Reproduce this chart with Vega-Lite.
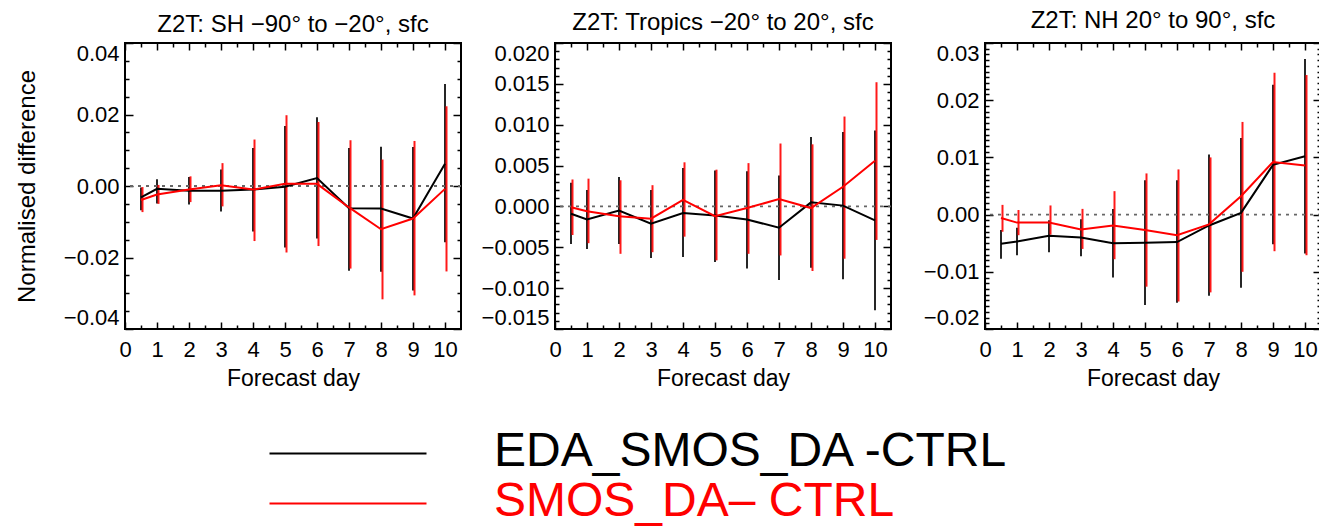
{
"$schema":"https://vega.github.io/schema/vega-lite/v6.json",
"padding":{"left":14,"top":7,"right":0,"bottom":0},
"spacing":94,
"bounds":"flush",
"datasets":{"d":[
{"p":"SH","s":"EDA_SMOS_DA -CTRL","d":0.5,"v":-0.0032,"lo":-0.0068,"hi":-0.0004},
{"p":"SH","s":"EDA_SMOS_DA -CTRL","d":1,"v":-0.0008,"lo":-0.0049,"hi":0.0019},
{"p":"SH","s":"EDA_SMOS_DA -CTRL","d":2,"v":-0.0013,"lo":-0.0052,"hi":0.0025},
{"p":"SH","s":"EDA_SMOS_DA -CTRL","d":3,"v":-0.0013,"lo":-0.0071,"hi":0.0046},
{"p":"SH","s":"EDA_SMOS_DA -CTRL","d":4,"v":-0.001,"lo":-0.0127,"hi":0.0106},
{"p":"SH","s":"EDA_SMOS_DA -CTRL","d":5,"v":-0.0002,"lo":-0.0172,"hi":0.0168},
{"p":"SH","s":"EDA_SMOS_DA -CTRL","d":6,"v":0.0022,"lo":-0.0147,"hi":0.0192},
{"p":"SH","s":"EDA_SMOS_DA -CTRL","d":7,"v":-0.0062,"lo":-0.0237,"hi":0.0106},
{"p":"SH","s":"EDA_SMOS_DA -CTRL","d":8,"v":-0.0063,"lo":-0.024,"hi":0.011},
{"p":"SH","s":"EDA_SMOS_DA -CTRL","d":9,"v":-0.0091,"lo":-0.0292,"hi":0.0109},
{"p":"SH","s":"EDA_SMOS_DA -CTRL","d":10,"v":0.0062,"lo":-0.0157,"hi":0.0285},
{"p":"SH","s":"SMOS_DA– CTRL","d":0.5,"v":-0.0039,"lo":-0.0073,"hi":-0.0003},
{"p":"SH","s":"SMOS_DA– CTRL","d":1,"v":-0.0024,"lo":-0.005,"hi":0.0003},
{"p":"SH","s":"SMOS_DA– CTRL","d":2,"v":-0.001,"lo":-0.0045,"hi":0.0027},
{"p":"SH","s":"SMOS_DA– CTRL","d":3,"v":0.0002,"lo":-0.0057,"hi":0.0064},
{"p":"SH","s":"SMOS_DA– CTRL","d":4,"v":-0.001,"lo":-0.0154,"hi":0.013},
{"p":"SH","s":"SMOS_DA– CTRL","d":5,"v":0.0006,"lo":-0.0186,"hi":0.0198},
{"p":"SH","s":"SMOS_DA– CTRL","d":6,"v":0.0006,"lo":-0.0168,"hi":0.0179},
{"p":"SH","s":"SMOS_DA– CTRL","d":7,"v":-0.006,"lo":-0.0231,"hi":0.0128},
{"p":"SH","s":"SMOS_DA– CTRL","d":8,"v":-0.0121,"lo":-0.0317,"hi":0.0074},
{"p":"SH","s":"SMOS_DA– CTRL","d":9,"v":-0.0091,"lo":-0.0306,"hi":0.0126},
{"p":"SH","s":"SMOS_DA– CTRL","d":10,"v":-0.0008,"lo":-0.0239,"hi":0.0223},
{"p":"TR","s":"EDA_SMOS_DA -CTRL","d":0.5,"v":-0.0009,"lo":-0.0046,"hi":0.0029},
{"p":"TR","s":"EDA_SMOS_DA -CTRL","d":1,"v":-0.0016,"lo":-0.0052,"hi":0.002},
{"p":"TR","s":"EDA_SMOS_DA -CTRL","d":2,"v":-0.0005,"lo":-0.0046,"hi":0.0036},
{"p":"TR","s":"EDA_SMOS_DA -CTRL","d":3,"v":-0.0021,"lo":-0.0063,"hi":0.002},
{"p":"TR","s":"EDA_SMOS_DA -CTRL","d":4,"v":-0.0008,"lo":-0.0062,"hi":0.0047},
{"p":"TR","s":"EDA_SMOS_DA -CTRL","d":5,"v":-0.0011,"lo":-0.0068,"hi":0.0044},
{"p":"TR","s":"EDA_SMOS_DA -CTRL","d":6,"v":-0.0016,"lo":-0.0076,"hi":0.0043},
{"p":"TR","s":"EDA_SMOS_DA -CTRL","d":7,"v":-0.0026,"lo":-0.009,"hi":0.0038},
{"p":"TR","s":"EDA_SMOS_DA -CTRL","d":8,"v":0.0005,"lo":-0.0075,"hi":0.0085},
{"p":"TR","s":"EDA_SMOS_DA -CTRL","d":9,"v":0.0001,"lo":-0.0089,"hi":0.0091},
{"p":"TR","s":"EDA_SMOS_DA -CTRL","d":10,"v":-0.0017,"lo":-0.0127,"hi":0.0093},
{"p":"TR","s":"SMOS_DA– CTRL","d":0.5,"v":-0.0001,"lo":-0.0035,"hi":0.0033},
{"p":"TR","s":"SMOS_DA– CTRL","d":1,"v":-0.0006,"lo":-0.0045,"hi":0.0034},
{"p":"TR","s":"SMOS_DA– CTRL","d":2,"v":-0.0012,"lo":-0.0058,"hi":0.0032},
{"p":"TR","s":"SMOS_DA– CTRL","d":3,"v":-0.0015,"lo":-0.0056,"hi":0.0026},
{"p":"TR","s":"SMOS_DA– CTRL","d":4,"v":0.0008,"lo":-0.0037,"hi":0.0054},
{"p":"TR","s":"SMOS_DA– CTRL","d":5,"v":-0.0012,"lo":-0.0066,"hi":0.0045},
{"p":"TR","s":"SMOS_DA– CTRL","d":6,"v":-0.0002,"lo":-0.0058,"hi":0.0053},
{"p":"TR","s":"SMOS_DA– CTRL","d":7,"v":0.0009,"lo":-0.006,"hi":0.0077},
{"p":"TR","s":"SMOS_DA– CTRL","d":8,"v":-0.0002,"lo":-0.0079,"hi":0.0076},
{"p":"TR","s":"SMOS_DA– CTRL","d":9,"v":0.0024,"lo":-0.0064,"hi":0.011},
{"p":"TR","s":"SMOS_DA– CTRL","d":10,"v":0.0056,"lo":-0.0041,"hi":0.0152},
{"p":"NH","s":"EDA_SMOS_DA -CTRL","d":0.5,"v":-0.0051,"lo":-0.0077,"hi":-0.0027},
{"p":"NH","s":"EDA_SMOS_DA -CTRL","d":1,"v":-0.0047,"lo":-0.0071,"hi":-0.0023},
{"p":"NH","s":"EDA_SMOS_DA -CTRL","d":2,"v":-0.0037,"lo":-0.0066,"hi":-0.001},
{"p":"NH","s":"EDA_SMOS_DA -CTRL","d":3,"v":-0.004,"lo":-0.0073,"hi":-0.0008},
{"p":"NH","s":"EDA_SMOS_DA -CTRL","d":4,"v":-0.005,"lo":-0.011,"hi":0.001},
{"p":"NH","s":"EDA_SMOS_DA -CTRL","d":5,"v":-0.0049,"lo":-0.0158,"hi":0.006},
{"p":"NH","s":"EDA_SMOS_DA -CTRL","d":6,"v":-0.0048,"lo":-0.0154,"hi":0.006},
{"p":"NH","s":"EDA_SMOS_DA -CTRL","d":7,"v":-0.0019,"lo":-0.0142,"hi":0.0105},
{"p":"NH","s":"EDA_SMOS_DA -CTRL","d":8,"v":0.0003,"lo":-0.0128,"hi":0.0134},
{"p":"NH","s":"EDA_SMOS_DA -CTRL","d":9,"v":0.0087,"lo":-0.0052,"hi":0.0227},
{"p":"NH","s":"EDA_SMOS_DA -CTRL","d":10,"v":0.0102,"lo":-0.0068,"hi":0.0272},
{"p":"NH","s":"SMOS_DA– CTRL","d":0.5,"v":-0.0006,"lo":-0.003,"hi":0.0017},
{"p":"NH","s":"SMOS_DA– CTRL","d":1,"v":-0.0014,"lo":-0.0036,"hi":0.0008},
{"p":"NH","s":"SMOS_DA– CTRL","d":2,"v":-0.0014,"lo":-0.0035,"hi":0.0016},
{"p":"NH","s":"SMOS_DA– CTRL","d":3,"v":-0.0026,"lo":-0.006,"hi":0.001},
{"p":"NH","s":"SMOS_DA– CTRL","d":4,"v":-0.0019,"lo":-0.0078,"hi":0.0041},
{"p":"NH","s":"SMOS_DA– CTRL","d":5,"v":-0.0027,"lo":-0.0126,"hi":0.0072},
{"p":"NH","s":"SMOS_DA– CTRL","d":6,"v":-0.0036,"lo":-0.0152,"hi":0.0079},
{"p":"NH","s":"SMOS_DA– CTRL","d":7,"v":-0.0017,"lo":-0.0136,"hi":0.01},
{"p":"NH","s":"SMOS_DA– CTRL","d":8,"v":0.0032,"lo":-0.01,"hi":0.0162},
{"p":"NH","s":"SMOS_DA– CTRL","d":9,"v":0.0092,"lo":-0.0064,"hi":0.0248},
{"p":"NH","s":"SMOS_DA– CTRL","d":10,"v":0.0086,"lo":-0.0071,"hi":0.0244}
]},
"hconcat":[
{
"width":336,"height":286,
"title":"Z2T: SH −90° to −20°, sfc",
"resolve":{"axis":{"x":"independent","y":"independent"}},
"layer":[
{"data":{"name":"d"},"transform":[{"filter":"datum.p=='SH' && datum.s=='EDA_SMOS_DA -CTRL'"}],
"mark":{"type":"rule","color":"black","strokeWidth":2,"opacity":0.85},
"encoding":{
"x":{"field":"d","type":"quantitative","scale":{"domain":[0,10.5],"nice":false,"zero":false},
"axis":{"orient":"bottom","title":"Forecast day","values":[0,0.5,1,1.5,2,2.5,3,3.5,4,4.5,5,5.5,6,6.5,7,7.5,8,8.5,9,9.5,10],"labelExpr":"datum.value % 1 == 0 ? format(datum.value, 'd') : ''","tickSize":{"condition":{"test":"datum.value % 1 == 0","value":-7},"value":-4},"labelPadding":17,"titlePadding":4,"labelFlush":false,"labelOverlap":false}},
"y":{"field":"lo","type":"quantitative","scale":{"domain":[-0.04,0.04],"nice":false,"zero":false},
"axis":{"orient":"left","title":"Normalised difference","titleFontSize":24,"titlePadding":24,"values":[-0.04,-0.035,-0.03,-0.025,-0.02,-0.015,-0.01,-0.005,0,0.005,0.01,0.015,0.02,0.025,0.03,0.035,0.04],"labelExpr":"abs(datum.value/0.02-round(datum.value/0.02))<1e-6 ? format(datum.value,'.2f') : ''","tickSize":{"condition":{"test":"abs(datum.value/0.02-round(datum.value/0.02))<1e-6","value":-8},"value":-4},"labelPadding":14,"labelFlush":true,"labelOverlap":false}},
"y2":{"field":"hi"}}},
{"data":{"name":"d"},"transform":[{"filter":"datum.p=='SH' && datum.s=='SMOS_DA– CTRL'"}],
"mark":{"type":"rule","color":"#ff0000","strokeWidth":2,"opacity":0.9,"xOffset":1.5},
"encoding":{
"x":{"field":"d","type":"quantitative","scale":{"domain":[0,10.5],"nice":false,"zero":false},
"axis":{"orient":"top","title":null,"labels":false,"values":[0,0.5,1,1.5,2,2.5,3,3.5,4,4.5,5,5.5,6,6.5,7,7.5,8,8.5,9,9.5,10],"tickSize":{"condition":{"test":"datum.value % 1 == 0","value":-7},"value":-4}}},
"y":{"field":"lo","type":"quantitative","scale":{"domain":[-0.04,0.04],"nice":false,"zero":false},
"axis":{"orient":"right","title":null,"labels":false,"values":[-0.04,-0.035,-0.03,-0.025,-0.02,-0.015,-0.01,-0.005,0,0.005,0.01,0.015,0.02,0.025,0.03,0.035,0.04],"tickSize":{"condition":{"test":"abs(datum.value/0.02-round(datum.value/0.02))<1e-6","value":-8},"value":-4}}},
"y2":{"field":"hi"}}},
{"data":{"values":[{}]},"mark":{"type":"rule","color":"#666666","strokeDash":[3,5],"strokeWidth":1.8},
"encoding":{"y":{"datum":0,"type":"quantitative","scale":{"domain":[-0.04,0.04],"nice":false,"zero":false},"axis":null}}},
{"data":{"name":"d"},"transform":[{"filter":"datum.p=='SH'"}],
"mark":{"type":"line","strokeWidth":2},
"encoding":{
"x":{"field":"d","type":"quantitative","scale":{"domain":[0,10.5],"nice":false,"zero":false},"axis":null},
"y":{"field":"v","type":"quantitative","scale":{"domain":[-0.04,0.04],"nice":false,"zero":false},"axis":null},
"color":{"field":"s","type":"nominal","scale":{"domain":["EDA_SMOS_DA -CTRL","SMOS_DA– CTRL"],"range":["#000000","#ff0000"]},
"legend":{"orient":"none","legendX":197,"legendY":383,"title":null,"symbolType":"M-3.14,0.06L3.14,0.06","symbolSize":2500,"symbolStrokeWidth":2,"labelFontSize":48,"labelOffset":120,"rowPadding":0,"padding":0,"labelLimit":0,"encode":{"labels":{"update":{"fill":{"signal":"datum.value === 'SMOS_DA– CTRL' ? '#ff0000' : '#000000'"}}}}}}}}
]
},
{
"width":336,"height":286,
"title":"Z2T: Tropics −20° to 20°, sfc",
"resolve":{"axis":{"x":"independent","y":"independent"}},
"layer":[
{"data":{"name":"d"},"transform":[{"filter":"datum.p=='TR' && datum.s=='EDA_SMOS_DA -CTRL'"}],
"mark":{"type":"rule","color":"black","strokeWidth":2,"opacity":0.85},
"encoding":{
"x":{"field":"d","type":"quantitative","scale":{"domain":[0,10.5],"nice":false,"zero":false},
"axis":{"orient":"bottom","title":"Forecast day","values":[0,0.5,1,1.5,2,2.5,3,3.5,4,4.5,5,5.5,6,6.5,7,7.5,8,8.5,9,9.5,10],"labelExpr":"datum.value % 1 == 0 ? format(datum.value, 'd') : ''","tickSize":{"condition":{"test":"datum.value % 1 == 0","value":-7},"value":-4},"labelPadding":17,"titlePadding":4,"labelFlush":false,"labelOverlap":false}},
"y":{"field":"lo","type":"quantitative","scale":{"domain":[-0.015,0.02],"nice":false,"zero":false},
"axis":{"orient":"left","title":null,"values":[-0.015,-0.014,-0.013,-0.012,-0.011,-0.01,-0.009,-0.008,-0.007,-0.006,-0.005,-0.004,-0.003,-0.002,-0.001,0,0.001,0.002,0.003,0.004,0.005,0.006,0.007,0.008,0.009,0.01,0.011,0.012,0.013,0.014,0.015,0.016,0.017,0.018,0.019,0.02],"labelExpr":"abs(datum.value/0.005-round(datum.value/0.005))<1e-6 ? format(datum.value,'.3f') : ''","tickSize":{"condition":{"test":"abs(datum.value/0.005-round(datum.value/0.005))<1e-6","value":-8},"value":-4},"labelPadding":14,"labelFlush":true,"labelOverlap":false}},
"y2":{"field":"hi"}}},
{"data":{"name":"d"},"transform":[{"filter":"datum.p=='TR' && datum.s=='SMOS_DA– CTRL'"}],
"mark":{"type":"rule","color":"#ff0000","strokeWidth":2,"opacity":0.9,"xOffset":1.5},
"encoding":{
"x":{"field":"d","type":"quantitative","scale":{"domain":[0,10.5],"nice":false,"zero":false},
"axis":{"orient":"top","title":null,"labels":false,"values":[0,0.5,1,1.5,2,2.5,3,3.5,4,4.5,5,5.5,6,6.5,7,7.5,8,8.5,9,9.5,10],"tickSize":{"condition":{"test":"datum.value % 1 == 0","value":-7},"value":-4}}},
"y":{"field":"lo","type":"quantitative","scale":{"domain":[-0.015,0.02],"nice":false,"zero":false},
"axis":{"orient":"right","title":null,"labels":false,"values":[-0.015,-0.014,-0.013,-0.012,-0.011,-0.01,-0.009,-0.008,-0.007,-0.006,-0.005,-0.004,-0.003,-0.002,-0.001,0,0.001,0.002,0.003,0.004,0.005,0.006,0.007,0.008,0.009,0.01,0.011,0.012,0.013,0.014,0.015,0.016,0.017,0.018,0.019,0.02],"tickSize":{"condition":{"test":"abs(datum.value/0.005-round(datum.value/0.005))<1e-6","value":-8},"value":-4}}},
"y2":{"field":"hi"}}},
{"data":{"values":[{}]},"mark":{"type":"rule","color":"#666666","strokeDash":[3,5],"strokeWidth":1.8},
"encoding":{"y":{"datum":0,"type":"quantitative","scale":{"domain":[-0.015,0.02],"nice":false,"zero":false},"axis":null}}},
{"data":{"name":"d"},"transform":[{"filter":"datum.p=='TR'"}],
"mark":{"type":"line","strokeWidth":2},
"encoding":{
"x":{"field":"d","type":"quantitative","scale":{"domain":[0,10.5],"nice":false,"zero":false},"axis":null},
"y":{"field":"v","type":"quantitative","scale":{"domain":[-0.015,0.02],"nice":false,"zero":false},"axis":null},
"color":{"field":"s","type":"nominal","scale":{"domain":["EDA_SMOS_DA -CTRL","SMOS_DA– CTRL"],"range":["#000000","#ff0000"]},
"legend":{"orient":"none","legendX":197,"legendY":383,"title":null,"symbolType":"M-3.14,0.06L3.14,0.06","symbolSize":2500,"symbolStrokeWidth":2,"labelFontSize":48,"labelOffset":120,"rowPadding":0,"padding":0,"labelLimit":0,"encode":{"labels":{"update":{"fill":{"signal":"datum.value === 'SMOS_DA– CTRL' ? '#ff0000' : '#000000'"}}}}}}}}
]
},
{
"width":336,"height":286,
"title":"Z2T: NH 20° to 90°, sfc",
"resolve":{"axis":{"x":"independent","y":"independent"}},
"layer":[
{"data":{"name":"d"},"transform":[{"filter":"datum.p=='NH' && datum.s=='EDA_SMOS_DA -CTRL'"}],
"mark":{"type":"rule","color":"black","strokeWidth":2,"opacity":0.85},
"encoding":{
"x":{"field":"d","type":"quantitative","scale":{"domain":[0,10.5],"nice":false,"zero":false},
"axis":{"orient":"bottom","title":"Forecast day","values":[0,0.5,1,1.5,2,2.5,3,3.5,4,4.5,5,5.5,6,6.5,7,7.5,8,8.5,9,9.5,10],"labelExpr":"datum.value % 1 == 0 ? format(datum.value, 'd') : ''","tickSize":{"condition":{"test":"datum.value % 1 == 0","value":-7},"value":-4},"labelPadding":17,"titlePadding":4,"labelFlush":false,"labelOverlap":false}},
"y":{"field":"lo","type":"quantitative","scale":{"domain":[-0.02,0.03],"nice":false,"zero":false},
"axis":{"orient":"left","title":null,"values":[-0.02,-0.019,-0.018,-0.017,-0.016,-0.015,-0.014,-0.013,-0.012,-0.011,-0.01,-0.009,-0.008,-0.007,-0.006,-0.005,-0.004,-0.003,-0.002,-0.001,0,0.001,0.002,0.003,0.004,0.005,0.006,0.007,0.008,0.009,0.01,0.011,0.012,0.013,0.014,0.015,0.016,0.017,0.018,0.019,0.02,0.021,0.022,0.023,0.024,0.025,0.026,0.027,0.028,0.029,0.03],"labelExpr":"abs(datum.value/0.01-round(datum.value/0.01))<1e-6 ? format(datum.value,'.2f') : ''","tickSize":{"condition":{"test":"abs(datum.value/0.01-round(datum.value/0.01))<1e-6","value":-8},"value":-4},"labelPadding":14,"labelFlush":true,"labelOverlap":false}},
"y2":{"field":"hi"}}},
{"data":{"name":"d"},"transform":[{"filter":"datum.p=='NH' && datum.s=='SMOS_DA– CTRL'"}],
"mark":{"type":"rule","color":"#ff0000","strokeWidth":2,"opacity":0.9,"xOffset":1.5},
"encoding":{
"x":{"field":"d","type":"quantitative","scale":{"domain":[0,10.5],"nice":false,"zero":false},
"axis":{"orient":"top","title":null,"labels":false,"values":[0,0.5,1,1.5,2,2.5,3,3.5,4,4.5,5,5.5,6,6.5,7,7.5,8,8.5,9,9.5,10],"tickSize":{"condition":{"test":"datum.value % 1 == 0","value":-7},"value":-4}}},
"y":{"field":"lo","type":"quantitative","scale":{"domain":[-0.02,0.03],"nice":false,"zero":false},
"axis":{"orient":"right","title":null,"labels":false,"values":[-0.02,-0.019,-0.018,-0.017,-0.016,-0.015,-0.014,-0.013,-0.012,-0.011,-0.01,-0.009,-0.008,-0.007,-0.006,-0.005,-0.004,-0.003,-0.002,-0.001,0,0.001,0.002,0.003,0.004,0.005,0.006,0.007,0.008,0.009,0.01,0.011,0.012,0.013,0.014,0.015,0.016,0.017,0.018,0.019,0.02,0.021,0.022,0.023,0.024,0.025,0.026,0.027,0.028,0.029,0.03],"tickSize":{"condition":{"test":"abs(datum.value/0.01-round(datum.value/0.01))<1e-6","value":-8},"value":-4}}},
"y2":{"field":"hi"}}},
{"data":{"values":[{}]},"mark":{"type":"rule","color":"#666666","strokeDash":[3,5],"strokeWidth":1.8},
"encoding":{"y":{"datum":0,"type":"quantitative","scale":{"domain":[-0.02,0.03],"nice":false,"zero":false},"axis":null}}},
{"data":{"name":"d"},"transform":[{"filter":"datum.p=='NH'"}],
"mark":{"type":"line","strokeWidth":2},
"encoding":{
"x":{"field":"d","type":"quantitative","scale":{"domain":[0,10.5],"nice":false,"zero":false},"axis":null},
"y":{"field":"v","type":"quantitative","scale":{"domain":[-0.02,0.03],"nice":false,"zero":false},"axis":null},
"color":{"field":"s","type":"nominal","scale":{"domain":["EDA_SMOS_DA -CTRL","SMOS_DA– CTRL"],"range":["#000000","#ff0000"]},
"legend":{"orient":"none","legendX":197,"legendY":383,"title":null,"symbolType":"M-3.14,0.06L3.14,0.06","symbolSize":2500,"symbolStrokeWidth":2,"labelFontSize":48,"labelOffset":120,"rowPadding":0,"padding":0,"labelLimit":0,"encode":{"labels":{"update":{"fill":{"signal":"datum.value === 'SMOS_DA– CTRL' ? '#ff0000' : '#000000'"}}}}}}}}
]
}
],
"config":{
"font":"Liberation Sans",
"view":{"stroke":"black","strokeWidth":2},
"axis":{"labelFontSize":22,"titleFontSize":23,"titleFontWeight":"normal","labelColor":"black","titleColor":"black","tickColor":"black","tickWidth":1.5,"grid":false,"domain":false},
"title":{"fontSize":24,"fontWeight":"normal","color":"black","offset":5}
}
}
